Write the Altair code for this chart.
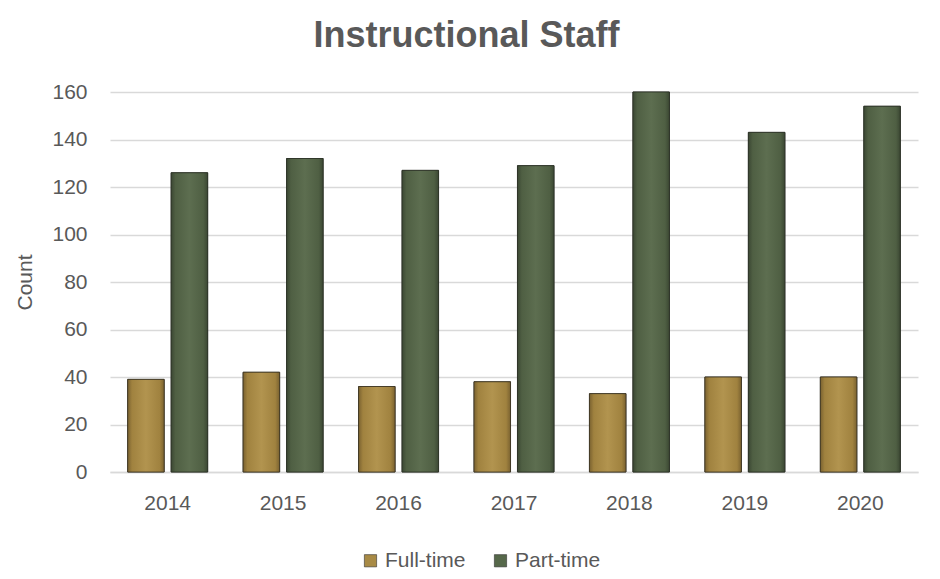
import altair as alt
import pandas as pd

years = ["2014", "2015", "2016", "2017", "2018", "2019", "2020"]
full_time = [39, 42, 36, 38, 33, 40, 40]
part_time = [126, 132, 127, 129, 160, 143, 154]
series = ["Full-time", "Part-time"]
colors = ["#A88A45", "#56684A"]
y_ticks = [0, 20, 40, 60, 80, 100, 120, 140, 160]

rows = []
for i, yr in enumerate(years):
    rows.append({"year": yr, "series": series[0], "count": full_time[i]})
    rows.append({"year": yr, "series": series[1], "count": part_time[i]})
df = pd.DataFrame(rows)

FONT = "Liberation Sans"
GREY = "#595959"

x_enc = alt.X("year:N", sort=years,
              scale=alt.Scale(paddingInner=0.307, paddingOuter=0.153),
              axis=alt.Axis(title=None, labelAngle=0, labelFontSize=21, labelColor=GREY,
                            labelFont=FONT, ticks=False, labelPadding=20,
                            domainColor="#d9d9d9", domainWidth=1.5))
y_enc = alt.Y("count:Q", scale=alt.Scale(domain=[0, 160], nice=False),
              axis=alt.Axis(title="Count", values=y_ticks, labelFontSize=21, labelColor=GREY,
                            labelFont=FONT, ticks=False, labelPadding=23, domain=False,
                            gridColor="#d9d9d9", gridWidth=1.5,
                            titleFont=FONT, titleFontSize=21, titleFontWeight="normal",
                            titleColor=GREY, titlePadding=16))
xo_enc = alt.XOffset("series:N", sort=series,
                     scale=alt.Scale(domain=series, paddingInner=0.16, paddingOuter=0))

base = alt.Chart(df).mark_bar(stroke="#2f2f2a", strokeWidth=0.8).encode(
    x=x_enc, y=y_enc, xOffset=xo_enc,
    color=alt.Color("series:N", sort=series,
                    scale=alt.Scale(domain=series, range=colors),
                    legend=alt.Legend(title=None, orient="none", direction="horizontal",
                                      legendX=250, legendY=458,
                                      labelFontSize=21, labelColor=GREY, labelFont=FONT,
                                      symbolType="square", symbolSize=150,
                                      symbolStrokeColor="#333333", symbolStrokeWidth=0.6,
                                      columnPadding=24, labelOffset=4)),
)

def grad(dark, mid, light):
    return alt.Gradient(gradient="linear", x1=0, x2=1, y1=0, y2=0,
                        stops=[alt.GradientStop(color=dark, offset=0),
                               alt.GradientStop(color=mid, offset=0.12),
                               alt.GradientStop(color=light, offset=0.5),
                               alt.GradientStop(color=mid, offset=0.88),
                               alt.GradientStop(color=dark, offset=1)])

ft_layer = alt.Chart(df).transform_filter(alt.datum.series == series[0]).mark_bar(
    fill=grad("#7a6230", "#a0823f", "#b2944f"), stroke="#3a3222", strokeWidth=0.8
).encode(x=x_enc, y=y_enc, xOffset=xo_enc)

pt_layer = alt.Chart(df).transform_filter(alt.datum.series == series[1]).mark_bar(
    fill=grad("#3b4733", "#4f5f43", "#5d6e50"), stroke="#2a3024", strokeWidth=0.8
).encode(x=x_enc, y=y_enc, xOffset=xo_enc)

chart = alt.layer(base, ft_layer, pt_layer).properties(
    width=808, height=380,
    padding={"left": 6, "top": 10, "right": 5, "bottom": 5},
    title=alt.TitleParams("Instructional Staff", fontSize=36, font=FONT, fontWeight="bold",
                          color=GREY, anchor="middle", frame="bounds", offset=26),
).configure_view(stroke=None)

chart.save("out.html", embed_options={"renderer": "svg", "actions": False})
